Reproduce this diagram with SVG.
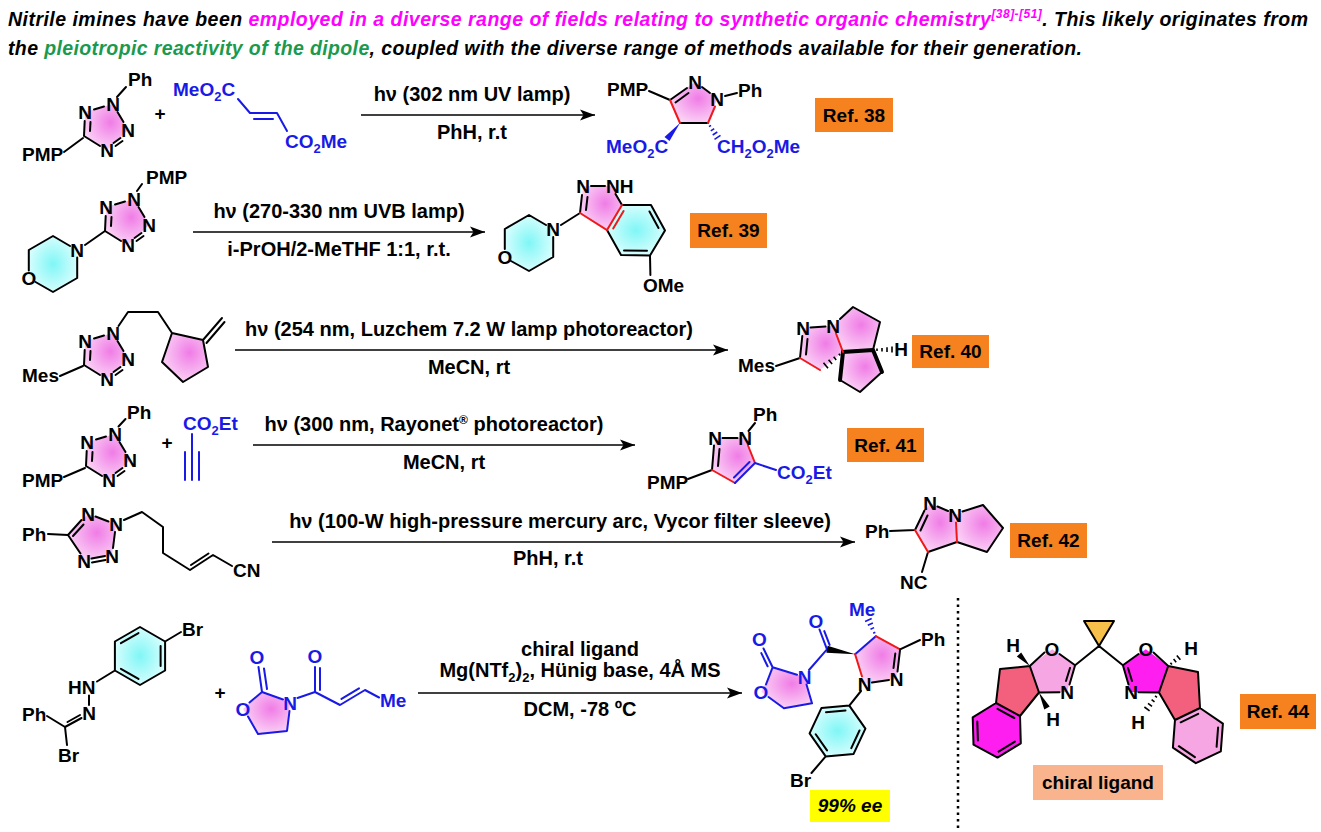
<svg xmlns="http://www.w3.org/2000/svg" width="1321" height="832" viewBox="0 0 1321 832">
<defs>
<style>
text{font-family:"Liberation Sans",Arial,Helvetica,sans-serif;font-weight:bold;font-size:19px;fill:#000}
.m{text-anchor:middle}
.cd{font-size:20px;text-anchor:middle}
.hd{font-size:19.5px;font-style:italic}
text.bt,.bt{fill:#1a1ae6}
.s{font-size:13px}
.bd{stroke:#000;stroke-width:2;fill:none;stroke-linecap:round;stroke-linejoin:round}
.bb{stroke:#1a1ae6;stroke-width:2;fill:none;stroke-linecap:round;stroke-linejoin:round}
.br{stroke:#f01818;stroke-width:2;fill:none;stroke-linecap:round}
.hv{stroke:#000;stroke-width:4;fill:none;stroke-linecap:round}
.hs{stroke:#000;stroke-width:1.6;fill:none}
.hsb{stroke:#1a1ae6;stroke-width:1.6;fill:none}
.arr{stroke:#000;stroke-width:1.6;fill:none;marker-end:url(#ah)}
.ref{fill:#f5821f}
.pk{fill:url(#pk)}
.cy{fill:url(#cy)}
</style>
<radialGradient id="pk" cx="0.6" cy="0.4" r="0.65"><stop offset="0" stop-color="#f07ce6"/><stop offset="1" stop-color="#fbd6f6"/></radialGradient>
<radialGradient id="cy" cx="0.5" cy="0.5" r="0.6"><stop offset="0" stop-color="#80f6f6"/><stop offset="1" stop-color="#e6ffff"/></radialGradient>
<marker id="ah" markerWidth="16" markerHeight="12" refX="15" refY="6" orient="auto" markerUnits="userSpaceOnUse"><path d="M0,0.5 L15,6 L0,11.5 L3.5,6 z" fill="#000"/></marker>
<g id="tz">
<polygon class="pk" points="85,112 113,104 128,130 107,150 84,136"/>
<path class="bd" d="M84,136L84.7,121 M90,131L90.5,122 M94,109.5L104,106.5 M117.5,112L123.5,122 M122.5,141L115.5,146 M120.5,138L113.5,143 M100,146L84,136"/>
<text class="m" x="85" y="119">N</text>
<text class="m" x="113" y="111">N</text>
<text class="m" x="128" y="137">N</text>
<text class="m" x="107" y="157">N</text>
</g>
</defs>
<rect width="1321" height="832" fill="#fff"/>

<g id="header">
<text class="hd" x="8" y="26" textLength="1300" lengthAdjust="spacing">Nitrile imines have been <tspan fill="#ff00ff">employed in a diverse range of fields relating to synthetic organic chemistry</tspan><tspan fill="#ff00ff" font-size="12" dy="-8">[38]-[51]</tspan><tspan dy="8">. This likely originates from</tspan></text>
<text class="hd" x="8" y="55" textLength="1074" lengthAdjust="spacing">the <tspan fill="#1b9a4f">pleiotropic reactivity of the dipole</tspan>, coupled with the diverse range of methods available for their generation.</text>
</g>

<!-- ROW 1 -->
<g id="r1-tetrazole">
<use href="#tz"/>
<path class="bd" d="M117,97L126,87 M64,152L83,138"/>
<text x="128" y="86">Ph</text>
<text x="22" y="161">PMP</text>
</g>
<g id="r1-fumarate">
<path class="bb" d="M238,99L250,113L277,113L287,131 M254,119L273,119"/>
<text class="bt" x="173" y="96">MeO<tspan class="s" dy="5">2</tspan><tspan dy="-5">C</tspan></text>
<text class="bt" x="285" y="148">CO<tspan class="s" dy="5">2</tspan><tspan dy="-5">Me</tspan></text>
</g>
<g id="r1-product">
<polygon class="pk" points="670,100 695,82 717,99 708,123 680,123"/>
<path class="bd" d="M649,91L670,100 M670,100L687,88 M675.5,102.5L688.5,93 M702,87L710,93 M708,123L680,123 M725,96L737,93"/>
<path class="br" d="M715,106.5L708,123 M680,123L670,100"/>
<polygon class="bt" points="680,123 669.5,141 664.5,137"/>
<path class="hsb" d="M711,125.3L709,126.7 M714.2,128.6L710.8,130.9 M717.3,132L712.7,135 M720.5,135.3L714.5,139.3"/>
<text x="607" y="96">PMP</text>
<text class="m" x="695" y="89">N</text>
<text class="m" x="717" y="106">N</text>
<text x="738" y="97">Ph</text>
<text class="bt" x="606" y="153">MeO<tspan class="s" dy="5">2</tspan><tspan dy="-5">C</tspan></text>
<text class="bt" x="717" y="153">CH<tspan class="s" dy="5">2</tspan><tspan dy="-5">O</tspan><tspan class="s" dy="5">2</tspan><tspan dy="-5">Me</tspan></text>
</g>
<g id="ref38"><rect class="ref" x="815" y="98" width="78" height="34"/><text class="m" x="854" y="122">Ref. 38</text></g>

<!-- ROW 2 -->
<g id="r2-reactant">
<polygon class="cy" points="53,236 77.2,250 77.2,278 53,292 28.8,278 28.8,250"/>
<use href="#tz" transform="translate(21,95)"/>
<path class="bd" d="M70,246L53,236L28.8,250L28.8,270.5 M35.5,282L53,292L77.2,278L77.2,257.5 M85,245L105,231 M137,191L142,184"/>
<text class="m" x="77" y="257">N</text>
<text class="m" x="29" y="285">O</text>
<text x="146" y="184">PMP</text>
</g>
<g id="r2-product">
<polygon class="cy" points="529,215 553.2,229 553.2,257 529,271 504.8,257 504.8,229"/>
<polygon class="cy" points="622,205 651,205 665,230.5 650,255.5 621,255 607,230"/>
<polygon class="pk" points="580,213 583,186 613,186 622,205 607,230"/>
<path class="bd" d="M546,225L529,215L504.8,229L504.8,249 M511,261L529,271L553.2,257L553.2,237 M561,225L580,213 M580,213L582,195 M586,210L587.5,197 M591,186L605,186 M615.5,194L622,205 M622,205L651,205L665,230.5L650,255.5L621,255L607,230 M649.5,211.5L658.5,228 M647,250.8L624,250.5 M650,255.5L650.4,275"/>
<path class="br" d="M622,205L607,230L580,213 M623.6,211L613.2,228.5"/>
<text class="m" x="553" y="236">N</text>
<text class="m" x="505" y="264">O</text>
<text class="m" x="583" y="193">N</text>
<text x="606" y="193">NH</text>
<text x="643" y="292">OMe</text>
</g>
<g id="ref39"><rect class="ref" x="690" y="213" width="77" height="35"/><text class="m" x="728.5" y="237">Ref. 39</text></g>

<!-- ROW 3 -->
<g id="r3-reactant">
<polygon class="pk" points="172,333 203,340 208,367 183,382 162,362"/>
<use href="#tz" transform="translate(0,229)"/>
<path class="bd" d="M60,376L83,366 M118.5,326L128,312L158,312L172,333L203,340L208,367L183,382L162,362L172,333 M203,340L222,318 M206.5,343L224.5,322"/>
<text x="22" y="382">Mes</text>
</g>
<g id="r3-product">
<polygon class="pk" points="800,358 803,328 833,326 843,352 820,370"/>
<polygon class="pk" points="833,326 853,307 880,322 873,350 843,352"/>
<polygon class="pk" points="843,352 873,350 882,372 860,392 840,380"/>
<path class="bd" d="M776,366L800,358 M800,358L802.3,336 M806,354.5L807.5,339 M810.5,327.5L825.5,326.5 M840,319L853,307L880,322L873,350 M840,380L860,392L882,372"/>
<path class="hv" d="M873,350L843,352L840,380 M882,372L873,350"/>
<path class="br" d="M836,333.5L843,352 M820,370L800,358"/>
<path class="hs" d="M840.3,355.6L838.8,353.8 M836.2,359.9L833.7,356.7 M832.1,364.1L828.6,359.7 M828,368.3L823.5,362.7 M877,348.6L877,351 M882,347.9L882,351.5 M887,347.2L887,352 M892,346.4L892,352.6"/>
<text x="738" y="372">Mes</text>
<text class="m" x="803" y="335">N</text>
<text class="m" x="833" y="333">N</text>
<text class="m" x="901" y="356">H</text>
</g>
<g id="ref40"><rect class="ref" x="912" y="335" width="77" height="33"/><text class="m" x="950.5" y="358">Ref. 40</text></g>

<!-- ROW 4 -->
<g id="r4-tetrazole">
<use href="#tz" transform="translate(2,330)"/>
<path class="bd" d="M118.5,426.5L125.5,419 M64,477L85,468"/>
<text x="127" y="419">Ph</text>
<text x="22" y="487">PMP</text>
</g>
<g id="r4-alkyne">
<path class="bb" d="M192,434L192,480 M185,452L185,480 M199,452L199,480"/>
<text class="bt" x="183" y="430">CO<tspan class="s" dy="5">2</tspan><tspan dy="-5">Et</tspan></text>
</g>
<g id="r4-product">
<polygon class="pk" points="715,438 745,438 755,463 735,483 712,470"/>
<path class="bd" d="M722.5,438L737.5,438 M748.5,431L755,423 M712,470L714,445.5 M718,466L719.5,449 M712,470L688,479"/>
<path class="br" d="M748,445.5L755,463 M735,483L712,470"/>
<path class="bb" d="M755,463L735,483 M749.5,462L734,477.5 M755,463L776,470"/>
<text x="753" y="421">Ph</text>
<text class="m" x="745" y="445">N</text>
<text class="m" x="715" y="445">N</text>
<text x="647" y="489">PMP</text>
<text class="bt" x="777" y="479">CO<tspan class="s" dy="5">2</tspan><tspan dy="-5">Et</tspan></text>
</g>
<g id="ref41"><rect class="ref" x="847" y="428" width="77" height="34"/><text class="m" x="885.5" y="452">Ref. 41</text></g>

<!-- ROW 5 -->
<g id="r5-reactant">
<polygon class="pk" points="68,535 88,514 116,524 112,556 84,561"/>
<path class="bd" d="M48,534L68,535 M68,535L81.5,520 M73,536L83.5,524.5 M95.5,516.5L108.5,521.5 M115,532L113,548 M105,556L91.5,558.5 M105.5,560L92,562.5 M80.5,553.5L68,535 M124,520L142,512L163,527L163,553L190,570L213,555L232,566 M191,565L208.5,553.5"/>
<text x="22" y="541">Ph</text>
<text class="m" x="88" y="521">N</text>
<text class="m" x="116" y="531">N</text>
<text class="m" x="112" y="563">N</text>
<text class="m" x="84" y="568">N</text>
<text x="233" y="577">CN</text>
</g>
<g id="r5-product">
<polygon class="pk" points="915,530 930,503 955,515 957,542 928,552"/>
<polygon class="pk" points="955,515 983,505 1003,528 987,552 957,542"/>
<path class="bd" d="M890,531L915,530 M915,530L924.5,510.5 M920.5,530.5L927.5,515.5 M937.5,506.5L948,511 M957,542L928,552 M962.5,511.5L983,505L1003,528L987,552L957,542 M928,552L922,572"/>
<path class="br" d="M956,522.5L957,542 M928,552L915,530"/>
<text x="865" y="538">Ph</text>
<text class="m" x="930" y="510">N</text>
<text class="m" x="955" y="522">N</text>
<text x="900" y="589">NC</text>
</g>
<g id="ref42"><rect class="ref" x="1010" y="523" width="77" height="35"/><text class="m" x="1048.5" y="547">Ref. 42</text></g>

<!-- ROW 6 -->
<g id="r6-hydrazonoyl">
<polygon class="cy" points="140,627 165.1,641.5 165.1,670.5 140,685 114.9,670.5 114.9,641.5"/>
<path class="bd" d="M140,627L165.1,641.5L165.1,670.5L140,685L114.9,670.5L114.9,641.5Z M120.9,643.2L138.5,633.1 M160.6,645.9L160.6,666.1 M138.5,678.9L120.9,668.8 M165.1,641.5L181,632 M114.9,670.5L97,681.5 M89,695.5L89,705 M47,716L65,727L81.5,718 M67.5,722L80,715 M65,727L67,745"/>
<text x="182" y="636">Br</text>
<text x="68" y="694">HN</text>
<text class="m" x="89" y="720">N</text>
<text x="22" y="721">Ph</text>
<text x="58" y="762">Br</text>
</g>
<g id="r6-acyloxazolidinone">
<polygon class="pk" points="243,709 262,692 290,703 287,731 258,734"/>
<path class="bb" d="M249.5,702.5L262,692 M262,692L258.5,667 M267,689L264,668.5 M262,692L283,699.5 M289.5,711L287,731L258,734L248,716.5 M297.5,698L315,692 M315,692L315,667 M320,690L320,668 M315,692L340,705L365,690L379,697.5 M341.5,698.9L359,688.4"/>
<text class="m bt" x="257" y="664">O</text>
<text class="m bt" x="290" y="710">N</text>
<text class="m bt" x="243" y="716">O</text>
<text class="m bt" x="315" y="663">O</text>
<text class="bt" x="380" y="707">Me</text>
</g>
<g id="r6-product">
<polygon class="pk" points="761.4,691.8 772.6,667.3 804.5,677 812,703.3 783.9,708.2"/>
<polygon class="pk" points="855.1,654.2 875.8,636.2 900.1,649.3 896.4,678.8 864.5,683.7"/>
<polygon class="cy" points="849.3,705.6 865.4,728.6 853.6,753.9 825.7,756.4 809.6,733.4 821.4,708.1"/>
<path class="bb" d="M766,684.5L772.6,667.3 M772.6,667.3L763.5,648.5 M767.6,666.3L761.3,653.1 M772.6,667.3L797,674.8 M806.5,684.5L812,703.3L783.9,708.2L768.5,697 M809,670L827,649.3 M827,649.3L819.5,629.5 M829.6,644.9L824.3,631.1 M855.1,654.2L875.8,636.2"/>
<polygon points="855.1,654.2 827.6,645.85 826.4,652.75" fill="#000"/>
<path class="hsb" d="M875.3,632.3L873.2,633.3 M874.1,627.6L870.5,629.3 M872.9,623L867.8,625.3 M871.7,618.4L865.1,621.4"/>
<path class="br" d="M875.8,636.2L900.1,649.3 M862,676.5L855.1,654.2"/>
<path class="bd" d="M900.1,649.3L920,640 M900.1,649.3L897.5,671.5 M895.3,653.5L893.5,668 M889,680L872,682.5 M861,691L849.3,705.6 M849.3,705.6L865.4,728.6L853.6,753.9L825.7,756.4L809.6,733.4L821.4,708.1Z M826,712.2L845.5,710.5 M859.5,730.5L851.3,748.2 M827,750.4L815.7,734.3 M825.7,756.4L811.5,773"/>
<text class="m bt" x="761" y="699">O</text>
<text class="m bt" x="759.5" y="646">O</text>
<text class="m bt" x="804.5" y="684">N</text>
<text class="m bt" x="816" y="628">O</text>
<text class="bt" x="849" y="616">Me</text>
<text x="921" y="646">Ph</text>
<text class="m" x="896.5" y="686">N</text>
<text class="m" x="864.5" y="691">N</text>
<text x="790" y="787">Br</text>
<rect x="810" y="790" width="80" height="32" fill="#ffff00"/>
<text class="m" x="850" y="812" font-style="italic">99% ee</text>
</g>
<g id="separator"><line x1="958" y1="598" x2="958" y2="832" stroke="#000" stroke-width="2.5" stroke-dasharray="2.5,4"/></g>
<g id="r6-ligand">
<polygon points="1052.2,649.2 1075.1,665.3 1066.9,692 1039,692.5 1029.8,666" fill="#f7a6e4"/>
<polygon points="1029.8,666 1039,692.5 1020,716 996,703 1000,669" fill="#f2607e"/>
<polygon points="996,703 1020,716 1020.8,743.3 997.5,757.6 973.5,744.6 972.7,717.3" fill="#ff1ef0"/>
<polygon points="1145.8,649.2 1122.9,665.3 1131.1,692 1159,692.5 1168.2,666" fill="#ff1ef0"/>
<polygon points="1168.2,666 1159,692.5 1175,720 1200,708 1198,672" fill="#f2607e"/>
<polygon points="1175,720 1200,708 1222.9,723.6 1220.8,751.3 1195.8,763.2 1172.9,747.6" fill="#f7a6e4"/>
<polygon points="1084,621 1114,621 1099,646" fill="#f7c04a" stroke="#000" stroke-width="2" stroke-linejoin="round"/>
<path class="bd" d="M1059.5,654L1075.1,665.3L1099,646L1122.9,665.3L1138.5,654 M1075.1,665.3L1069.5,684.5 M1070,668L1066,681 M1059.5,692.3L1039,692.5L1029.8,666L1044.5,652.5 M1029.8,666L1000,669L996,703 M1020,716L1039,692.5 M996,703L1020,716L1020.8,743.3L997.5,757.6L973.5,744.6L972.7,717.3Z M997.5,708.9L1014.3,718 M1014.9,741.6L998.6,751.6 M977.9,740.5L977.3,721.4 M1122.9,665.3L1128.5,684.5 M1128,668L1132,681 M1138.5,692.3L1159,692.5L1168.2,666L1153.5,652.5 M1168.2,666L1198,672L1200,708 M1175,720L1159,692.5 M1175,720L1200,708L1222.9,723.6L1220.8,751.3L1195.8,763.2L1172.9,747.6Z M1180.7,722.3L1198.2,713.9 M1218.1,727.4L1216.6,746.8 M1194.9,757.2L1178.8,746.2"/>
<polygon points="1029.8,666 1021.2,652.5 1016.8,656.5" fill="#000"/>
<polygon points="1039,692.5 1049.7,706.6 1044.3,709.4" fill="#000"/>
<path class="hs" d="M1171.9,664.5L1170.4,662.7 M1176.2,662.2L1173.6,659 M1180.4,659.8L1176.8,655.4 M1157,697.3L1155,695.9 M1154.5,701.8L1151.6,699.6 M1152,706.3L1148,703.3 M1149.6,710.8L1144.4,707"/>
<text class="m" x="1052" y="656">O</text>
<text class="m" x="1067" y="699">N</text>
<text class="m" x="1146" y="656">O</text>
<text class="m" x="1131" y="699">N</text>
<text class="m" x="1013" y="652">H</text>
<text class="m" x="1053" y="726">H</text>
<text class="m" x="1191" y="655">H</text>
<text class="m" x="1138" y="729">H</text>
<rect x="1033" y="765" width="130" height="35" fill="#f9b48e"/>
<text class="m" x="1098" y="789" font-size="20">chiral ligand</text>
</g>
<g id="ref44"><rect class="ref" x="1240" y="694" width="76" height="35"/><text class="m" x="1278" y="718">Ref. 44</text></g>

<g id="connectors">
<line class="arr" x1="361" y1="115" x2="595" y2="115"/>
<line class="arr" x1="193" y1="232" x2="485" y2="232"/>
<line class="arr" x1="235" y1="350" x2="728" y2="350"/>
<line class="arr" x1="253" y1="445" x2="635" y2="445"/>
<line class="arr" x1="272" y1="542" x2="855" y2="542"/>
<line class="arr" x1="418" y1="693" x2="742" y2="693"/>
<text class="m" x="160" y="120">+</text>
<text class="m" x="167" y="449">+</text>
<text class="m" x="220" y="699">+</text>
</g>
<g id="conditions">
<text class="cd" x="472" y="101">hν (302 nm UV lamp)</text>
<text class="cd" x="472" y="139">PhH, r.t</text>
<text class="cd" x="339" y="218">hν (270-330 nm UVB lamp)</text>
<text class="cd" x="339" y="256">i-PrOH/2-MeTHF 1:1, r.t.</text>
<text class="cd" x="469" y="336">hν (254 nm, Luzchem 7.2 W lamp photoreactor)</text>
<text class="cd" x="469" y="374">MeCN, rt</text>
<text class="cd" x="434" y="431">hν (300 nm, Rayonet<tspan font-size="12" dy="-7">®</tspan><tspan dy="7"> photoreactor)</tspan></text>
<text class="cd" x="444" y="469">MeCN, rt</text>
<text class="cd" x="560" y="528">hν (100-W high-pressure mercury arc, Vycor filter sleeve)</text>
<text class="cd" x="548" y="565">PhH, r.t</text>
<text class="cd" x="580" y="656">chiral ligand</text>
<text class="cd" x="580" y="677">Mg(NTf<tspan class="s" dy="5">2</tspan><tspan dy="-5">)</tspan><tspan class="s" dy="5">2</tspan><tspan dy="-5">, Hünig base, 4Å MS</tspan></text>
<text class="cd" x="580" y="716">DCM, -78 ºC</text>
</g>
</svg>
